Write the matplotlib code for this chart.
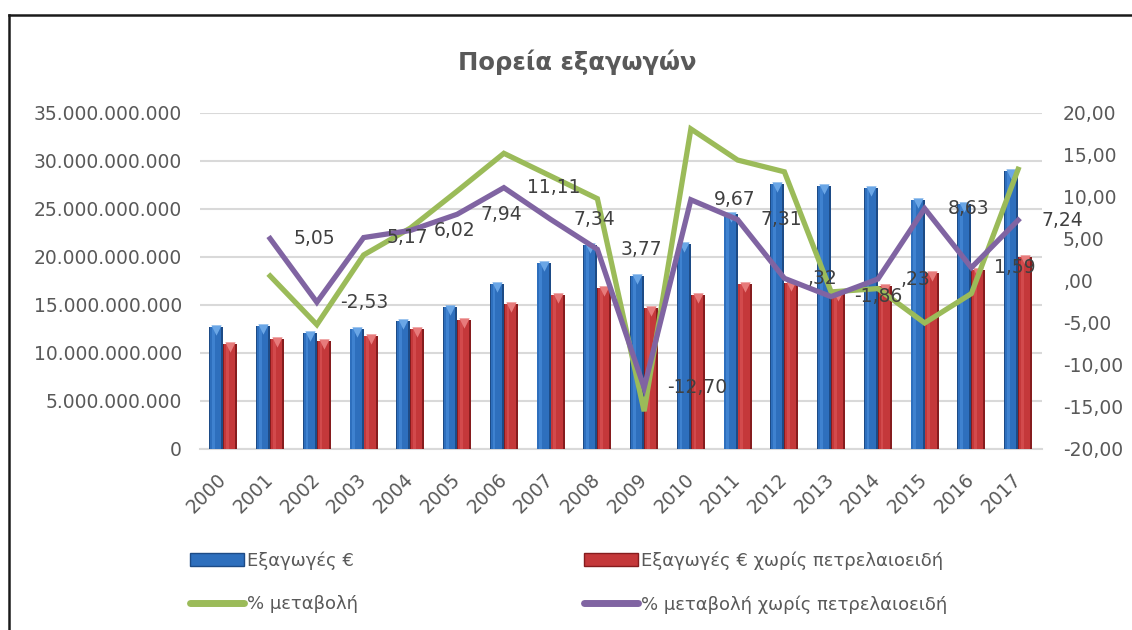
import numpy as np
import matplotlib
matplotlib.use("Agg")
import matplotlib.pyplot as plt
import matplotlib.transforms as mtransforms
from matplotlib.lines import Line2D
from matplotlib.patches import Patch

plt.rcParams['font.family'] = ['DejaVu Sans']

# δεδομένα
years = ['2000', '2001', '2002', '2003', '2004', '2005', '2006', '2007', '2008',
         '2009', '2010', '2011', '2012', '2013', '2014', '2015', '2016', '2017']
exports = [12.69e9, 12.83e9, 12.10e9, 12.51e9, 13.35e9, 14.84e9, 17.17e9, 19.36e9, 21.27e9,
           18.07e9, 21.35e9, 24.47e9, 27.56e9, 27.35e9, 27.14e9, 25.93e9, 25.51e9, 28.99e9]
exports_no_oil = [10.95e9, 11.47e9, 11.26e9, 11.78e9, 12.51e9, 13.45e9, 15.09e9, 16.09e9, 16.72e9,
                  14.67e9, 15.99e9, 17.17e9, 17.28e9, 16.24e9, 16.93e9, 18.38e9, 18.67e9, 20.05e9]
# πρώτο έτος δεν έχει μεταβολή
change = [np.nan, 0.6, -5.2, 3.1, 6.3, 10.7, 15.2, 12.5, 9.8,
          -15.5, 18.1, 14.4, 13.0, -1.3, -0.9, -5.0, -1.5, 13.3]
change_no_oil = [np.nan, 5.05, -2.53, 5.17, 6.02, 7.94, 11.11, 7.34, 3.77,
                 -12.70, 9.67, 7.31, 0.32, -1.86, 0.23, 8.63, 1.59, 7.24]

left_ticks = np.arange(0, 35e9 + 1, 5e9)
right_ticks = np.arange(-20, 21, 5)

title = 'Πορεία εξαγωγών'
lbl_exp = 'Εξαγωγές €'
lbl_exp_no = 'Εξαγωγές € χωρίς πετρελαιοειδή'
lbl_chg = '% μεταβολή'
lbl_chg_no = '% μεταβολή χωρίς πετρελαιοειδή'

txt_col = '#595959'
grid_col = '#d9d9d9'
green = '#9bbb59'
purple = '#8064a2'


def fmt_left(v):
    if v == 0:
        return '0'
    return '{:,.0f}'.format(v).replace(',', '.')


def fmt_right(v):
    s = '{:.2f}'.format(abs(v)).replace('.', ',')
    if s.startswith('0'):
        s = s[1:]
    return ('-' if v < 0 else '') + s


fig = plt.figure(figsize=(11.32, 6.30), dpi=100)
ax = fig.add_axes([200 / 1132, 1 - 449 / 630, 841.5 / 1132, 336 / 630])
ax2 = ax.twinx()
ax2.set_zorder(ax.get_zorder() + 1)
ax2.patch.set_visible(False)

x = np.arange(len(years))
w = 0.3


def cyl_bars(xs, vals, dark, mid, light, cap):
    ax.bar(xs, vals, w, color=dark, zorder=3)
    ax.bar(xs - w * 0.04, vals, w * 0.8, color=mid, zorder=3)
    ax.bar(xs - w * 0.2, vals, w * 0.2, color=light, zorder=3)
    tr = mtransforms.offset_copy(ax.transData, fig=fig, x=0, y=-3, units='dots')
    ax.scatter(xs, vals, marker='v', s=55, color=cap, zorder=4, transform=tr, linewidths=0)


cyl_bars(x - w / 2, exports, '#1d4b86', '#2e6fbd', '#3f82d0', '#6aa6e6')
cyl_bars(x + w / 2, exports_no_oil, '#861c1e', '#c4383a', '#d24a4c', '#e77b7b')

ax.set_xlim(-0.5, len(years) - 0.5)
ax.set_ylim(0, 35e9)
ax.set_yticks(left_ticks)
ax.set_yticklabels([fmt_left(v) for v in left_ticks])
ax.yaxis.grid(True, color=grid_col, lw=1.5, zorder=0)
ax.set_axisbelow(True)
for s in ['top', 'right', 'left']:
    ax.spines[s].set_visible(False)
ax.spines['bottom'].set_color(grid_col)
ax.spines['bottom'].set_linewidth(1.5)
ax.tick_params(axis='y', length=0, pad=13, labelsize=13.5, labelcolor=txt_col)
ax.set_xticks(x)
ax.set_xticklabels(years, rotation=45, ha='right', va='center', rotation_mode='anchor')
ax.tick_params(axis='x', length=0, pad=20, labelsize=13.5, labelcolor=txt_col)

ax2.plot(x, change, color=green, lw=3.8, solid_joinstyle='miter', zorder=5)
ax2.plot(x, change_no_oil, color=purple, lw=3.8, solid_joinstyle='miter', zorder=6)
ax2.set_ylim(-20, 20)
ax2.set_yticks(right_ticks)
ax2.set_yticklabels([fmt_right(v) for v in right_ticks])
ax2.tick_params(axis='y', length=0, pad=15.5, labelsize=13.5, labelcolor=txt_col)
for s in ax2.spines.values():
    s.set_visible(False)

for xi, v in zip(x, change_no_oil):
    if np.isnan(v):
        continue
    ax2.annotate(fmt_right(v), (xi, v), xytext=(23, 0), textcoords='offset pixels',
                 ha='left', va='center', fontsize=13.5, color='#404040', zorder=10)

fig.text(577 / 1132, 1 - 62 / 630, title, ha='center', va='center',
         fontsize=17.5, fontweight='bold', color=txt_col)

handles = [Patch(facecolor='#2e6fbd', edgecolor='#1d4b86'),
           Line2D([], [], color=green, lw=5, solid_capstyle='round'),
           Patch(facecolor='#c4383a', edgecolor='#861c1e'),
           Line2D([], [], color=purple, lw=5, solid_capstyle='round')]
labels = [lbl_exp, lbl_chg, lbl_exp_no, lbl_chg_no]
leg = fig.legend(handles, labels, ncol=2, loc='upper left',
                 bbox_to_anchor=(174 / 1132, 1 - 535 / 630), frameon=False,
                 fontsize=13, handlelength=3.0, handleheight=0.7, handletextpad=0.15,
                 columnspacing=12.5, labelspacing=1.4, labelcolor=txt_col)

# πλαίσιο
fig.add_artist(Line2D([9 / 1132, 1], [1 - 15 / 630, 1 - 15 / 630], color='#1a1a1a', lw=1.8))
fig.add_artist(Line2D([9 / 1132, 9 / 1132], [0, 1 - 15 / 630], color='#1a1a1a', lw=1.8))

fig.savefig('out.png', dpi=100)
